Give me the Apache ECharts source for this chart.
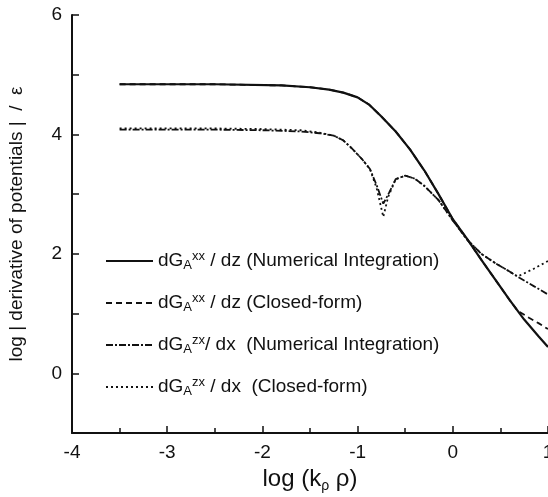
<!DOCTYPE html>
<html>
<head>
<meta charset="utf-8">
<script src="https://cdn.jsdelivr.net/npm/echarts@6/dist/echarts.min.js"></script>
<style>
html, body { margin: 0; padding: 0; background: #fff; }
#main { width: 548px; height: 497px; }
</style>
</head>
<body>
<div id="main"></div>
<script>
// axis ticks
var xTicks = [-4, -3, -2, -1, 0, 1];
var yTicks = [0, 2, 4, 6];

// dGA^xx/dz numerical integration (solid)
var xxNumX = [-3.5, -2.5, -1.8, -1.5, -1.3, -1.15, -1.0, -0.88, -0.75, -0.6, -0.45, -0.3, -0.15, 0, 0.15, 0.3, 0.45, 0.6, 0.75, 0.9, 1.0];
var xxNumY = [4.84, 4.84, 4.82, 4.79, 4.75, 4.70, 4.62, 4.50, 4.30, 4.05, 3.75, 3.40, 3.00, 2.58, 2.25, 1.90, 1.56, 1.22, 0.90, 0.62, 0.44];

// dGA^xx/dz closed form (dashed)
var xxCfX = [-3.5, -2.5, -1.8, -1.5, -1.3, -1.15, -1.0, -0.88, -0.75, -0.6, -0.45, -0.3, -0.15, 0, 0.15, 0.3, 0.45, 0.6, 0.68, 0.8, 0.9, 1.0];
var xxCfY = [4.84, 4.84, 4.82, 4.79, 4.75, 4.70, 4.62, 4.50, 4.30, 4.05, 3.75, 3.40, 3.00, 2.58, 2.25, 1.90, 1.56, 1.22, 1.05, 0.93, 0.84, 0.74];

// dGA^zx/dx numerical integration (dash-dot)
var zxNumX = [-3.5, -2.5, -2.0, -1.6, -1.4, -1.25, -1.15, -1.05, -0.95, -0.87, -0.8, -0.73, -0.67, -0.6, -0.5, -0.4, -0.3, -0.15, 0, 0.15, 0.3, 0.45, 0.6, 0.7, 0.85, 1.0];
var zxNumY = [4.08, 4.08, 4.07, 4.05, 4.02, 3.98, 3.90, 3.75, 3.58, 3.42, 3.15, 2.84, 3.02, 3.25, 3.31, 3.26, 3.14, 2.90, 2.56, 2.24, 2.00, 1.84, 1.70, 1.60, 1.46, 1.32];

// dGA^zx/dx closed form (dotted)
var zxCfX = [-3.5, -2.5, -2.0, -1.6, -1.4, -1.25, -1.15, -1.05, -0.95, -0.87, -0.8, -0.73, -0.68, -0.6, -0.5, -0.4, -0.3, -0.15, 0, 0.15, 0.3, 0.45, 0.6, 0.68, 0.85, 1.0];
var zxCfY = [4.10, 4.10, 4.09, 4.07, 4.03, 3.98, 3.90, 3.75, 3.58, 3.42, 3.10, 2.62, 2.95, 3.25, 3.31, 3.26, 3.14, 2.90, 2.56, 2.24, 2.00, 1.84, 1.70, 1.62, 1.75, 1.88];

function pairs(xs, ys) {
    var out = [];
    for (var i = 0; i < xs.length; i++) {
        out.push([xs[i], ys[i]]);
    }
    return out;
}

var legendText = {
    xxNum: 'dG{sub|A}{sup|xx} / dz (Numerical Integration)',
    xxCf: 'dG{sub|A}{sup|xx} / dz (Closed-form)',
    zxNum: 'dG{sub|A}{sup|zx}/ dx  (Numerical Integration)',
    zxCf: 'dG{sub|A}{sup|zx} / dx  (Closed-form)'
};

var font = 'Liberation Sans';
var ink = '#111';
var chart = echarts.init(document.getElementById('main'));

var option = {
    animation: false,
    backgroundColor: '#fff',
    grid: { left: 72, right: 0, top: 15, bottom: 64, outerBoundsMode: 'none', containLabel: false },
    legend: {
        left: 100,
        top: 245,
        orient: 'vertical',
        itemWidth: 47,
        itemHeight: 14,
        itemGap: 20,
        itemStyle: { opacity: 0 },
        data: ['xxNum', 'xxCf', 'zxNum', 'zxCf'],
        formatter: function(name) {
            return legendText[name];
        },
        textStyle: {
            fontFamily: font,
            fontSize: 19,
            color: ink,
            lineHeight: 22,
            rich: {
                sub: { fontFamily: font, fontSize: 13, color: ink, verticalAlign: 'bottom', lineHeight: 10 },
                sup: { fontFamily: font, fontSize: 13, color: ink, verticalAlign: 'top', lineHeight: 10 }
            }
        }
    },
    xAxis: {
        type: 'value',
        min: -4,
        max: 1,
        interval: 1,
        name: 'log (k{sub|ρ} ρ)',
        nameLocation: 'middle',
        nameGap: 32,
        nameTextStyle: {
            fontFamily: font,
            fontSize: 24,
            color: ink,
            rich: {
                sub: { fontFamily: font, fontSize: 14, color: ink, verticalAlign: 'bottom', padding: [14, 0, 0, 0] }
            }
        },
        axisLine: { onZero: false, lineStyle: { color: ink, width: 2 } },
        axisTick: { inside: true, length: 7, lineStyle: { color: ink, width: 1.5 } },
        minorTick: { show: true, splitNumber: 2, length: 5, lineStyle: { color: ink, width: 1.5 } },
        splitLine: { show: false },
        axisLabel: {
            fontFamily: font,
            fontSize: 19,
            color: ink,
            margin: 10,
            formatter: function(v) {
                return xTicks.indexOf(v) >= 0 ? String(v) : '';
            }
        }
    },
    yAxis: {
        type: 'value',
        min: -1,
        max: 6,
        interval: 1,
        name: 'log | derivative of potentials |  /  ε',
        nameLocation: 'middle',
        nameGap: 46,
        nameTextStyle: { fontFamily: font, fontSize: 19, color: ink },
        axisLine: { show: true, onZero: false, lineStyle: { color: ink, width: 2 } },
        axisTick: { inside: true, length: 7, lineStyle: { color: ink, width: 1.5 } },
        splitLine: { show: false },
        axisLabel: {
            fontFamily: font,
            fontSize: 19,
            color: ink,
            margin: 10,
            formatter: function(v) {
                return yTicks.indexOf(v) >= 0 ? String(v) : '';
            }
        }
    },
    series: [
        {
            name: 'xxNum', type: 'line', symbol: 'none', data: pairs(xxNumX, xxNumY),
            lineStyle: { color: ink, width: 2.2, type: 'solid' }, itemStyle: { color: ink }
        },
        {
            name: 'xxCf', type: 'line', symbol: 'none', data: pairs(xxCfX, xxCfY),
            lineStyle: { color: ink, width: 1.8, type: [6, 4] }, itemStyle: { color: ink }
        },
        {
            name: 'zxNum', type: 'line', symbol: 'none', data: pairs(zxNumX, zxNumY),
            lineStyle: { color: ink, width: 1.8, type: [7, 2, 2, 2] }, itemStyle: { color: ink }
        },
        {
            name: 'zxCf', type: 'line', symbol: 'none', data: pairs(zxCfX, zxCfY),
            lineStyle: { color: ink, width: 1.8, type: [2, 3] }, itemStyle: { color: ink }
        }
    ]
};

chart.setOption(option);
</script>
</body>
</html>
